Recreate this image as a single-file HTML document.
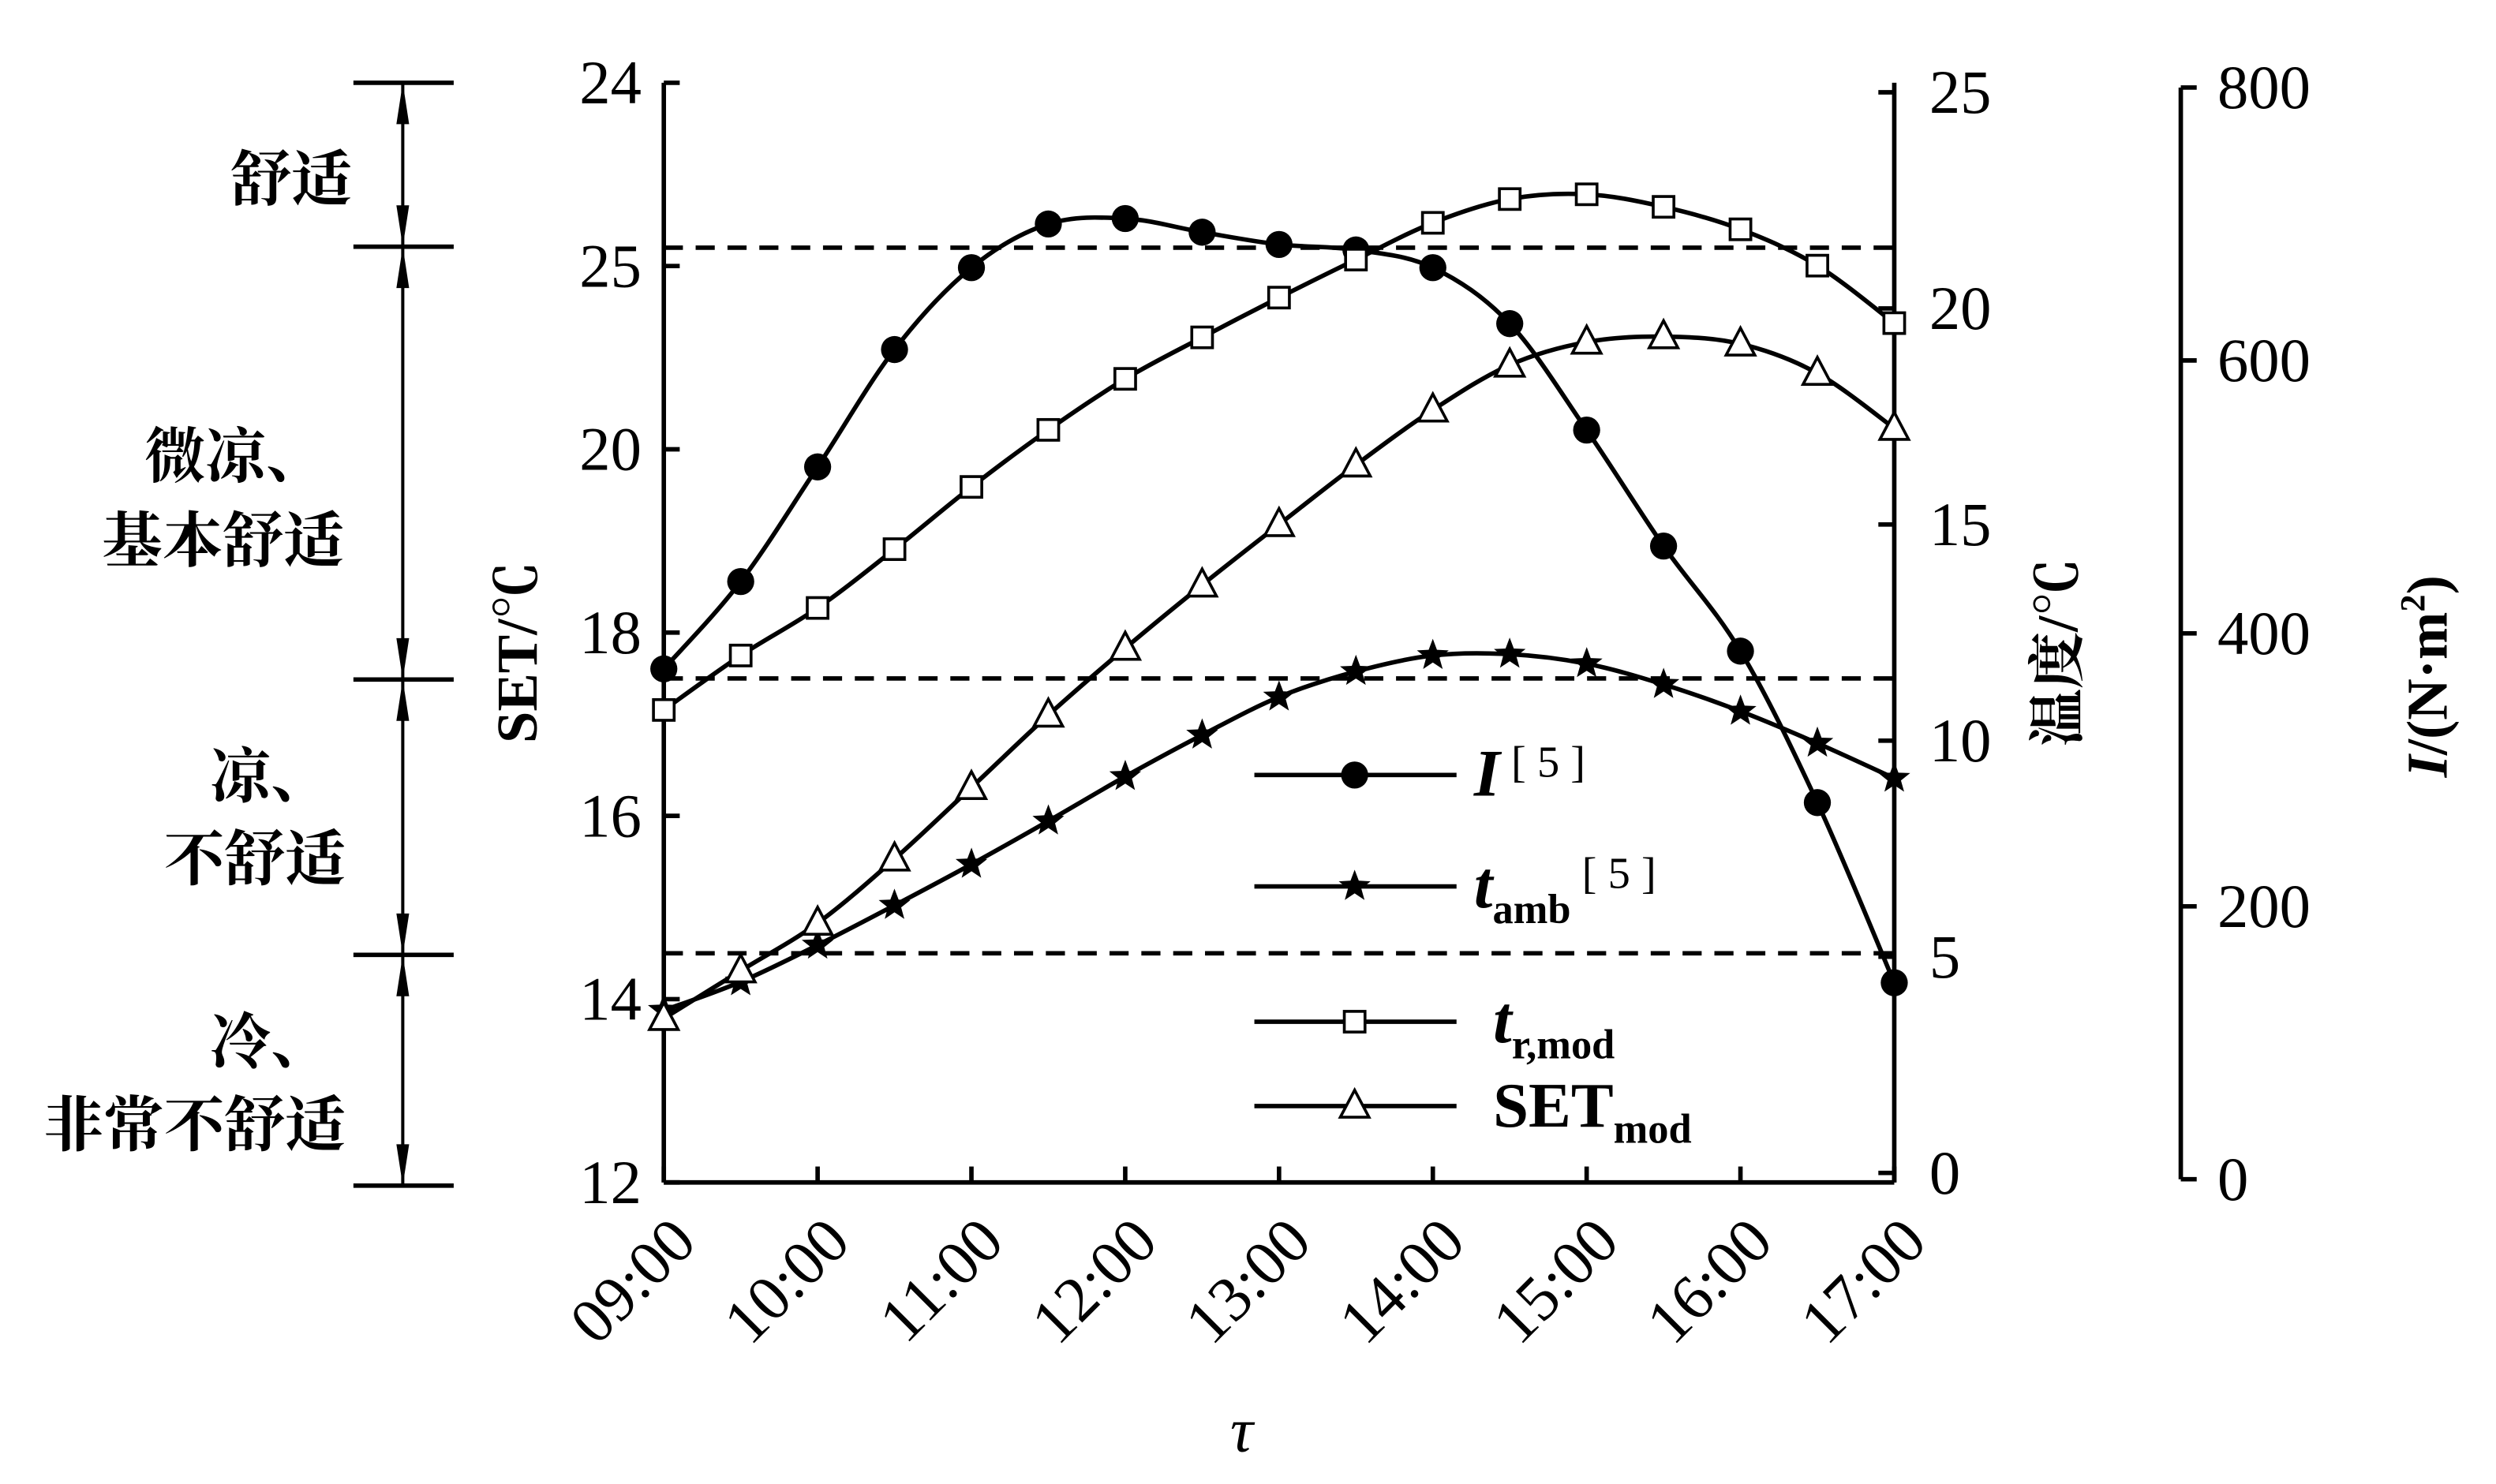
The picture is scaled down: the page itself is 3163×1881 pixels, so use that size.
<!DOCTYPE html>
<html><head><meta charset="utf-8"><style>
html,body{margin:0;padding:0;background:#fff}
svg{display:block}
text{font-family:"Liberation Serif","Noto Serif CJK SC",serif;fill:#000}
</style></head><body>
<svg id="chart" width="3163" height="1881" viewBox="0 0 1568 932.5" xmlns="http://www.w3.org/2000/svg">
<g id="ann"></g>
<g id="axes"></g>
<g id="series"></g>
<g id="legend"></g>
</svg>
<script>
const times = ["09:00","09:30","10:00","10:30","11:00","11:30","12:00","12:30","13:00","13:30","14:00","14:30","15:00","15:30","16:00","16:30","17:00"];
const xTickLabels = ["09:00","10:00","11:00","12:00","13:00","14:00","15:00","16:00","17:00"];
const irradiance = [374,438,522,608,668,700,704,694,685,681,668,627,549,464,387,276,144];
const tAmb = [3.76,4.42,5.27,6.19,7.14,8.14,9.17,10.13,11.01,11.6,11.97,12.0,11.78,11.3,10.68,9.94,9.13];
const tRmod = [10.71,11.97,13.07,14.43,15.87,17.19,18.37,19.33,20.25,21.13,21.98,22.53,22.64,22.35,21.83,20.99,19.66];
const setMod = [13.79,14.31,14.83,15.53,16.31,17.10,17.83,18.52,19.18,19.83,20.43,20.92,21.17,21.23,21.15,20.83,20.23];
const setTicks = [12,14,16,18,20,22,24];
const setTickLabels = ["12","14","16","18","20","25","24"];
const tempTicks = [0,5,10,15,20,25];
const iTicks = [0,200,400,600,800];
const thresholds = [22.2,17.5,14.5];

const NS="http://www.w3.org/2000/svg";
function mk(tag,attrs,parent,txt){const e=document.createElementNS(NS,tag);for(const k in attrs)e.setAttribute(k,attrs[k]);if(txt!==undefined)e.textContent=txt;parent.appendChild(e);return e;}
const X0=417,X1=1190;
const xPos=i=>X0+(X1-X0)*i/(times.length-1);
const ySet=v=>743-(v-12)/12*691;
const yTemp=v=>737-v/25*679;
const yI=v=>741-v/800*686;
const axes=document.getElementById('axes'), ser=document.getElementById('series'), leg=document.getElementById('legend'), ann=document.getElementById('ann');
const st={stroke:'#000','stroke-width':2.8,fill:'none'};
const serif='font-family:"Liberation Serif",serif';

let e;
e=mk('line',{x1:X0,y1:52,x2:X0,y2:743,...st},axes);
e=mk('line',{x1:X0,y1:743,x2:X1,y2:743,...st},axes);
e=mk('line',{x1:X1,y1:52,x2:X1,y2:743,...st},axes);
e=mk('line',{x1:1370,y1:yI(800),x2:1370,y2:yI(0),...st},axes);
setTicks.forEach((v,i)=>{const y=ySet(v);
 mk('line',{x1:X0,y1:y,x2:X0+10,y2:y,...st},axes);
 e=mk('text',{x:X0-14,y:y+13,'text-anchor':'end','font-size':39,style:serif},axes,setTickLabels[i]);
 });
tempTicks.forEach(v=>{const y=yTemp(v);
 mk('line',{x1:X1,y1:y,x2:X1-10,y2:y,...st},axes);
 e=mk('text',{x:X1+22,y:y+13,'font-size':39,style:serif},axes,String(v));
 });
iTicks.forEach(v=>{const y=yI(v);
 mk('line',{x1:1370,y1:y,x2:1380,y2:y,...st},axes);
 e=mk('text',{x:1393,y:y+13,'font-size':39,style:serif},axes,String(v));
 });
xTickLabels.forEach((t,k)=>{const x=X0+(X1-X0)*k/8;
 mk('line',{x1:x,y1:743,x2:x,y2:733,...st},axes);
 e=mk('text',{x:x+22,y:782,'text-anchor':'end','font-size':40,style:serif,transform:`rotate(-45 ${x+22} 782)`},axes,t);
 });
e=mk('text',{x:780,y:912,'font-size':40,'font-style':'italic','text-anchor':'middle'},axes,'τ');
e=mk('text',{x:0,y:0,'font-size':36,'font-weight':'bold','text-anchor':'middle',transform:'translate(337 410) rotate(-90)'},axes,'SET/℃');
e=mk('text',{x:0,y:0,'font-size':36,'font-weight':'bold','text-anchor':'middle',transform:'translate(1305 410) rotate(-90)'},axes,'温度/℃');
e=mk('text',{x:0,y:0,'font-size':36,'font-weight':'bold','text-anchor':'middle',transform:'translate(1537 425) rotate(-90)'},axes);
e.innerHTML='<tspan font-style="italic">I</tspan>/(N·m<tspan font-size="22" dy="-14">2</tspan><tspan dy="14">)</tspan>';


thresholds.forEach(v=>{e=mk('line',{x1:X0,y1:ySet(v),x2:X1,y2:ySet(v),stroke:'#000','stroke-width':2.8,'stroke-dasharray':'12 8'},axes);
 });

const bounds=[52,155,427,600,745];
bounds.forEach(y=>mk('line',{x1:222,y1:y,x2:285,y2:y,...st},ann));
for(let i=0;i<4;i++){const a=bounds[i],b=bounds[i+1];
 mk('line',{x1:253,y1:a,x2:253,y2:b,stroke:'#000','stroke-width':2},ann);
 mk('polygon',{points:`253,${a} 249,${a+26} 257,${a+26}`,fill:'#000'},ann);
 mk('polygon',{points:`253,${b} 249,${b-26} 257,${b-26}`,fill:'#000'},ann);}
const labs=[["舒适",183,126],["微凉、",148,300],["基本舒适",140,353],["凉、",170,501],["不舒适",160,553],["冷、",170,668],["非常不舒适",122,720]];
labs.forEach(l=>{e=mk('text',{x:l[1],y:l[2],'text-anchor':'middle','font-size':38,'font-weight':'bold',style:'font-family:"Noto Serif CJK SC",serif'},ann,l[0]);});

function curve(pts){let d=`M${pts[0][0]},${pts[0][1]}`;
 for(let i=0;i<pts.length-1;i++){const p0=pts[i-1]||pts[i],p1=pts[i],p2=pts[i+1],p3=pts[i+2]||p2;
  d+=` C${p1[0]+(p2[0]-p0[0])/6},${p1[1]+(p2[1]-p0[1])/6} ${p2[0]-(p3[0]-p1[0])/6},${p2[1]-(p3[1]-p1[1])/6} ${p2[0]},${p2[1]}`;}
 return d;}
function star(cx,cy,r){let p=[];for(let i=0;i<10;i++){const rr=i%2?r*0.42:r,a=-Math.PI/2+i*Math.PI/5;p.push((cx+rr*Math.cos(a)).toFixed(1)+','+(cy+rr*Math.sin(a)).toFixed(1));}return p.join(' ');}
function marker(kind,x,y,g){
 if(kind==='circle')return mk('circle',{cx:x,cy:y,r:8.5,fill:'#000'},g);
 if(kind==='star')return mk('polygon',{points:star(x,y,10.5),fill:'#000'},g);
 if(kind==='square')return mk('rect',{x:x-6.5,y:y-6.5,width:13,height:13,fill:'#fff',stroke:'#000','stroke-width':1.8},g);
 return mk('polygon',{points:`${x},${y-10} ${x-9},${y+7} ${x+9},${y+7}`,fill:'#fff',stroke:'#000','stroke-width':1.8},g);}
const seriesDefs=[['irradiance-series',irradiance,yI,'circle'],['t-amb-series',tAmb,yTemp,'star'],['t-r-mod-series',tRmod,yTemp,'square'],['set-mod-series',setMod,ySet,'triangle']];
seriesDefs.forEach(s=>{const g=mk('g',{},ser);
 const pts=s[1].map((v,i)=>[xPos(i),s[2](v)]);
 const p=mk('path',{d:curve(pts),...st},g);
 pts.forEach(q=>{const m=marker(s[3],q[0],q[1],g);});});

const legY=[487,557,642,695],kinds=['circle','star','square','triangle'];
const legHtml=['<tspan font-style="italic" font-weight="bold" font-size="42">I</tspan><tspan font-size="28" dy="-12"> [ 5 ]</tspan>',
 '<tspan font-style="italic" font-weight="bold" font-size="42">t</tspan><tspan font-size="26" font-weight="bold" dy="10">amb</tspan><tspan font-size="28" dy="-22"> [ 5 ]</tspan>',
 '<tspan font-style="italic" font-weight="bold" font-size="42">t</tspan><tspan font-size="26" font-weight="bold" dy="10">r,mod</tspan>',
 '<tspan font-weight="bold" font-size="40">SET</tspan><tspan font-size="26" font-weight="bold" dy="10">mod</tspan>'];
legY.forEach((y,i)=>{const g=mk('g',{},leg);
 mk('line',{x1:788,y1:y,x2:915,y2:y,...st},g);marker(kinds[i],851,y,g);
 const t=mk('text',{x:i<2?926:938,y:y+13,style:serif},g);t.innerHTML=legHtml[i];});
</script>
</body></html>
